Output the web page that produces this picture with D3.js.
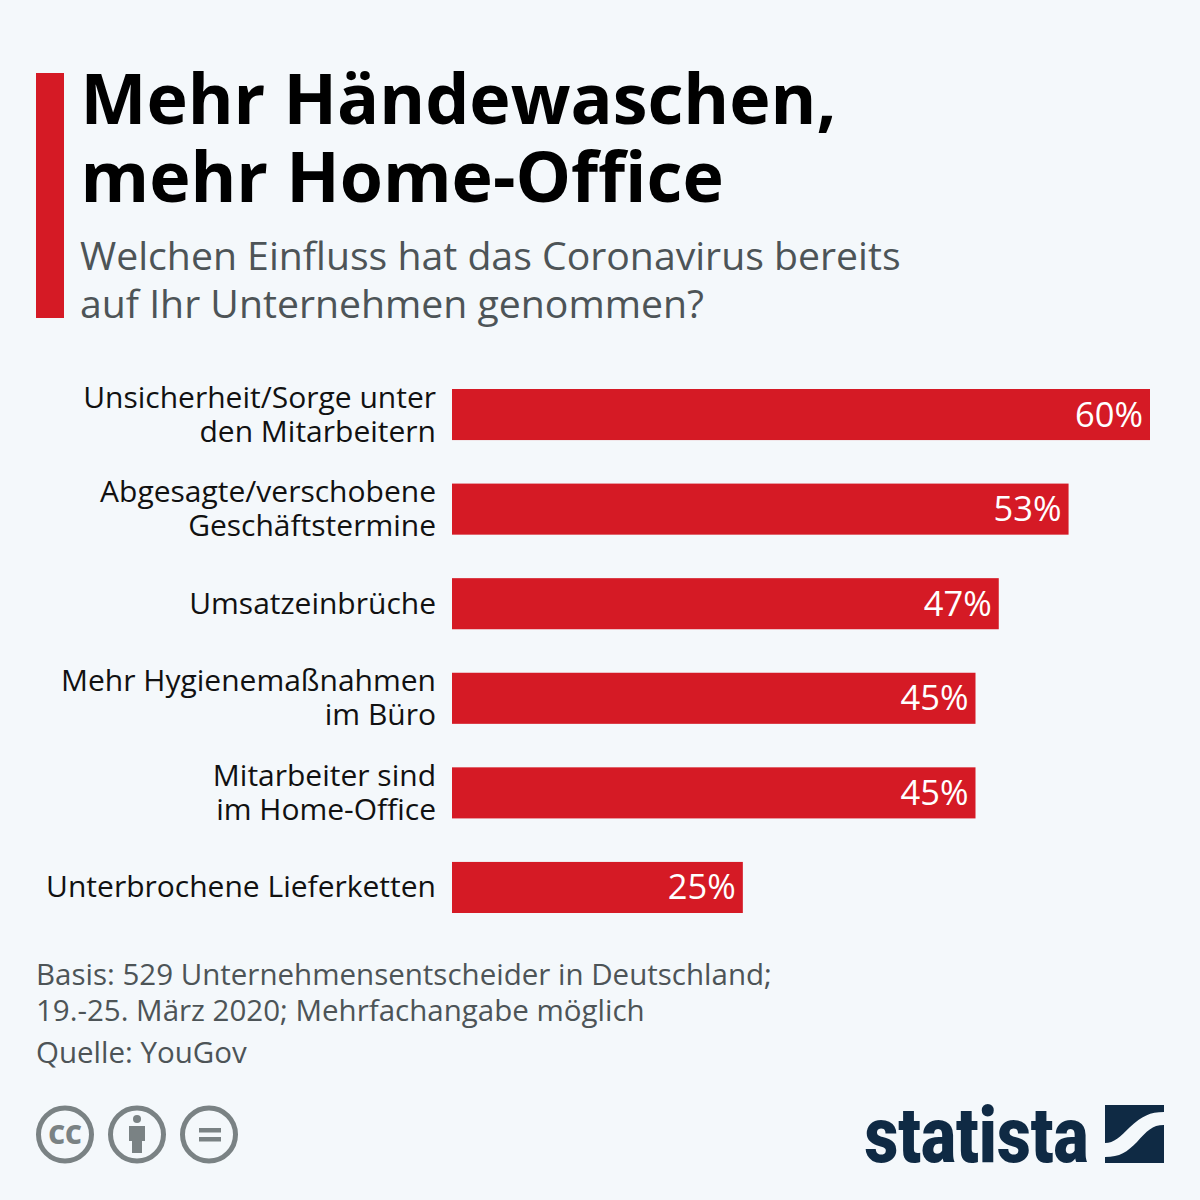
<!DOCTYPE html>
<html><head><meta charset="utf-8">
<script src="https://cdnjs.cloudflare.com/ajax/libs/d3/7.8.5/d3.min.js"></script>
<style>html,body{margin:0;padding:0;background:#f4f8fb}svg{display:block}text{font-family:"Open Sans",sans-serif}</style>
</head><body>
<svg id="c" width="1200" height="1200"></svg>
<script>
const categories = [["Unsicherheit/Sorge unter","den Mitarbeitern"],["Abgesagte/verschobene","Geschäftstermine"],["Umsatzeinbrüche"],["Mehr Hygienemaßnahmen","im Büro"],["Mitarbeiter sind","im Home-Office"],["Unterbrochene Lieferketten"]];
const values = [60,53,47,45,45,25];
const titleLines = ["Mehr Händewaschen,","mehr Home-Office"];
const subtitleLines = ["Welchen Einfluss hat das Coronavirus bereits","auf Ihr Unternehmen genommen?"];
const noteLines = ["Basis: 529 Unternehmensentscheider in Deutschland;","19.-25. März 2020; Mehrfachangabe möglich"];
const sourceLine = "Quelle: YouGov";
const red = "#d51a25", dark = "#0f2a44", grey = "#4d5457", iconGrey = "#7a8284";

const svg = d3.select("#c");
svg.append("rect").attr("width",1200).attr("height",1200).attr("fill","#f4f8fb");
svg.append("rect").attr("x",36).attr("y",73).attr("width",28).attr("height",245).attr("fill",red);

function multiline(lines, xPos, y0, dy, size, attrs){
  const t = svg.append("text").attr("font-size",size);
  Object.entries(attrs).forEach(([k,v])=>t.attr(k,v));
  t.selectAll("tspan").data(lines).join("tspan").attr("x",xPos).attr("y",(d,i)=>y0+i*dy).text(d=>d);
  return t;
}
multiline(titleLines,80.5,124,78,69.9,{"font-weight":700,fill:"#000"});
multiline(subtitleLines,80,270,47.5,39.2,{fill:grey});

const x = d3.scaleLinear().domain([0,60]).range([452,1150]);
const y = d3.scaleBand().domain(d3.range(values.length)).range([389,913]).paddingInner(0.46);

svg.selectAll(".bar").data(values).join("rect").attr("class","bar")
  .attr("x",x(0)).attr("y",(d,i)=>y(i)).attr("width",d=>x(d)-x(0)).attr("height",y.bandwidth()).attr("fill",red);
svg.selectAll(".val").data(values).join("text").attr("class","val")
  .attr("x",d=>x(d)-7).attr("y",(d,i)=>y(i)+y.bandwidth()/2+12).attr("text-anchor","end")
  .attr("font-size",34.5).attr("fill","#fff").text(d=>d+"%");
categories.forEach((lines,i)=>{
  const cy = y(i)+y.bandwidth()/2;
  multiline(lines,436,cy-(lines.length-1)*17+10,34,30,{"text-anchor":"end",fill:"#111"});
});
multiline(noteLines,36,984.5,36,29.5,{fill:grey});
svg.append("text").attr("x",36).attr("y",1063).attr("font-size",29.5).attr("fill",grey).text(sourceLine);

// licence icons
const icons = [65,137,209];
svg.selectAll(".ic").data(icons).join("circle").attr("class","ic").attr("cx",d=>d).attr("cy",1134.5)
  .attr("r",26.5).attr("fill","none").attr("stroke",iconGrey).attr("stroke-width",5);
svg.append("text").attr("x",65).attr("y",1143.5).attr("text-anchor","middle").attr("font-size",26).attr("font-weight",800)
  .attr("fill",iconGrey).text("CC");
svg.append("circle").attr("cx",137).attr("cy",1119).attr("r",4).attr("fill",iconGrey);
svg.append("path").attr("fill",iconGrey).attr("d","M129 1126h16v15h-3v12h-10v-12h-3z");
svg.append("rect").attr("x",199).attr("y",1128).attr("width",22).attr("height",4.5).attr("fill",iconGrey);
svg.append("rect").attr("x",199).attr("y",1137).attr("width",22).attr("height",4.5).attr("fill",iconGrey);

// logo
svg.append("text").attr("x",864.5).attr("y",1162).attr("font-size",78).attr("font-weight",900)
  .attr("style","font-family:Roboto").attr("textLength",224).attr("lengthAdjust","spacingAndGlyphs").attr("fill",dark).text("statista");
svg.append("path").attr("fill",dark).attr("d","M1105 1105H1164V1112C1150 1112 1142 1116 1130 1127C1120 1137 1114 1143 1105 1143Z");
svg.append("path").attr("fill",dark).attr("d","M1164 1125V1163H1105V1157C1120 1157 1127 1152 1137 1142C1147 1131 1152 1125 1164 1125Z");
</script>
</body></html>
